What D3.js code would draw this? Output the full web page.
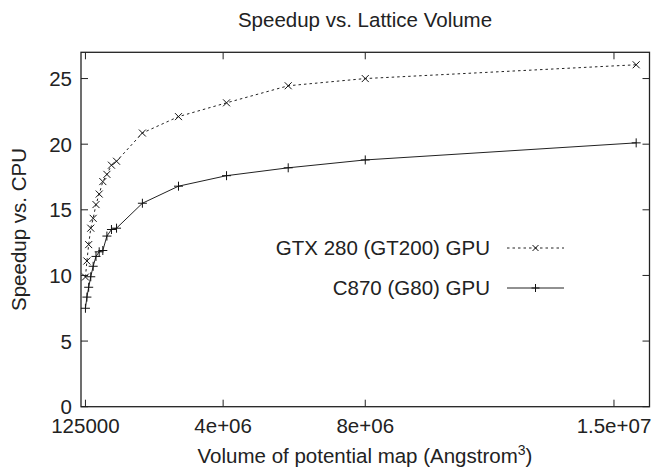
<!DOCTYPE html>
<html>
<head>
<meta charset="utf-8">
<script src="https://cdn.jsdelivr.net/npm/d3@7"></script>
<style>
  body { margin: 0; background: #fff; }
  text { font-family: "Liberation Sans", Arial, sans-serif; fill: #222; }
</style>
</head>
<body>
<svg id="chart" width="652" height="470"></svg>
<script>
// lattice volumes (cubes from 50^3 up to 250^3)
var volumes = [125000, 166375, 216000, 274625, 343000, 421875, 512000, 614125,
               729000, 857375, 1000000, 1728000, 2744000, 4096000, 5832000, 8000000, 15625000];

var gtxSpeedup = [9.88, 11.1, 12.35, 13.6, 14.35, 15.4, 16.2, 17.15, 17.7, 18.4, 18.7,
                  20.85, 22.1, 23.15, 24.45, 25.0, 26.05];
var c870Speedup = [7.5, 8.35, 9.1, 9.9, 10.7, 11.45, 11.8, 11.9, 13.0, 13.5, 13.6,
                   15.5, 16.8, 17.6, 18.2, 18.8, 20.1];

var xTicks = [125000, 4000000, 8000000, 15000000];
var xTickLabels = ["125000", "4e+06", "8e+06", "1.5e+07"];
var yTicks = [0, 5, 10, 15, 20, 25];

var seriesNames = ["GTX 280 (GT200) GPU", "C870 (G80) GPU"];

(function() {
    var svg = d3.select("#chart");
    var pLeft = 81, pRight = 649.5, pTop = 52.3, pBottom = 406.7;
    var tickLen = 7;
    var fs = 20.5;

    var x = d3.scaleLinear().domain([0, 16000000]).range([pLeft, pRight]);
    var y = d3.scaleLinear().domain([0, 27]).range([pBottom, pTop]);

    /*
     ticks point inward on all four sides, gnuplot style
    */
    var g = svg.append("g").attr("stroke", "#222").attr("stroke-width", 1);
    xTicks.forEach(function(t) {
        g.append("line").attr("x1", x(t)).attr("x2", x(t)).attr("y1", pBottom).attr("y2", pBottom - tickLen);
        g.append("line").attr("x1", x(t)).attr("x2", x(t)).attr("y1", pTop).attr("y2", pTop + tickLen);
    });
    yTicks.forEach(function(t) {
        g.append("line").attr("x1", pLeft).attr("x2", pLeft + tickLen).attr("y1", y(t)).attr("y2", y(t));
        g.append("line").attr("x1", pRight).attr("x2", pRight - tickLen).attr("y1", y(t)).attr("y2", y(t));
    });

    svg.append("rect")
        .attr("x", pLeft).attr("y", pTop)
        .attr("width", pRight - pLeft).attr("height", pBottom - pTop)
        .attr("fill", "none").attr("stroke", "#222").attr("stroke-width", 1.3);

    // tick labels
    svg.selectAll(".xlab").data(xTicks).enter().append("text")
        .attr("x", function(d) { return x(d); })
        .attr("y", pBottom + 26)
        .attr("text-anchor", "middle")
        .attr("font-size", fs)
        .text(function(d, i) { return xTickLabels[i]; });

    svg.selectAll(".ylab").data(yTicks).enter().append("text")
        .attr("x", pLeft - 9)
        .attr("y", function(d) { return y(d) + 7.5; })
        .attr("text-anchor", "end")
        .attr("font-size", fs)
        .text(function(d) { return d; });

    // titles
    svg.append("text").attr("x", 365).attr("y", 27).attr("text-anchor", "middle")
        .attr("font-size", fs).text("Speedup vs. Lattice Volume");

    var xt = svg.append("text").attr("x", 365).attr("y", 463).attr("text-anchor", "middle")
        .attr("font-size", fs);
    xt.append("tspan").text("Volume of potential map (Angstrom");
    xt.append("tspan").attr("dy", -8).attr("font-size", 14).text("3");
    xt.append("tspan").attr("dy", 8).text(")");

    svg.append("text").attr("transform", "translate(26," + ((pTop + pBottom) / 2) + ") rotate(-90)")
        .attr("text-anchor", "middle").attr("font-size", fs).text("Speedup vs. CPU");

    // series
    var line = d3.line().x(function(d) { return x(d[0]); }).y(function(d) { return y(d[1]); });
    var gtxData = volumes.map(function(v, i) { return [v, gtxSpeedup[i]]; });
    var c870Data = volumes.map(function(v, i) { return [v, c870Speedup[i]]; });

    function crossMark(sel, cx, cy, s) {
        sel.append("path").attr("d", "M" + (cx - s) + "," + (cy - s) + "L" + (cx + s) + "," + (cy + s) +
            "M" + (cx - s) + "," + (cy + s) + "L" + (cx + s) + "," + (cy - s))
            .attr("stroke", "#111").attr("stroke-width", 1).attr("fill", "none");
    }
    function plusMark(sel, cx, cy, s) {
        sel.append("path").attr("d", "M" + (cx - s) + "," + cy + "L" + (cx + s) + "," + cy +
            "M" + cx + "," + (cy - s) + "L" + cx + "," + (cy + s))
            .attr("stroke", "#111").attr("stroke-width", 1).attr("fill", "none");
    }

    svg.append("path").datum(gtxData).attr("d", line)
        .attr("fill", "none").attr("stroke", "#222").attr("stroke-width", 1)
        .attr("stroke-dasharray", "2.5,3");
    svg.append("path").datum(c870Data).attr("d", line)
        .attr("fill", "none").attr("stroke", "#222").attr("stroke-width", 1);

    var marks = svg.append("g");
    gtxData.forEach(function(d) { crossMark(marks, x(d[0]), y(d[1]), 3.5); });
    c870Data.forEach(function(d) { plusMark(marks, x(d[0]), y(d[1]), 4.5); });

    // legend
    var legY = [248, 288];
    seriesNames.forEach(function(name, i) {
        svg.append("text").attr("x", 490).attr("y", legY[i] + 7).attr("text-anchor", "end")
            .attr("font-size", fs).text(name);
        var ln = svg.append("line").attr("x1", 507).attr("x2", 564).attr("y1", legY[i]).attr("y2", legY[i])
            .attr("stroke", "#222").attr("stroke-width", 1);
        if (i == 0) {
            ln.attr("stroke-dasharray", "2.5,3");
            crossMark(svg, 535.5, legY[i], 3);
        } else {
            plusMark(svg, 535.5, legY[i], 4);
        }
    });
})();
</script>
</body>
</html>
